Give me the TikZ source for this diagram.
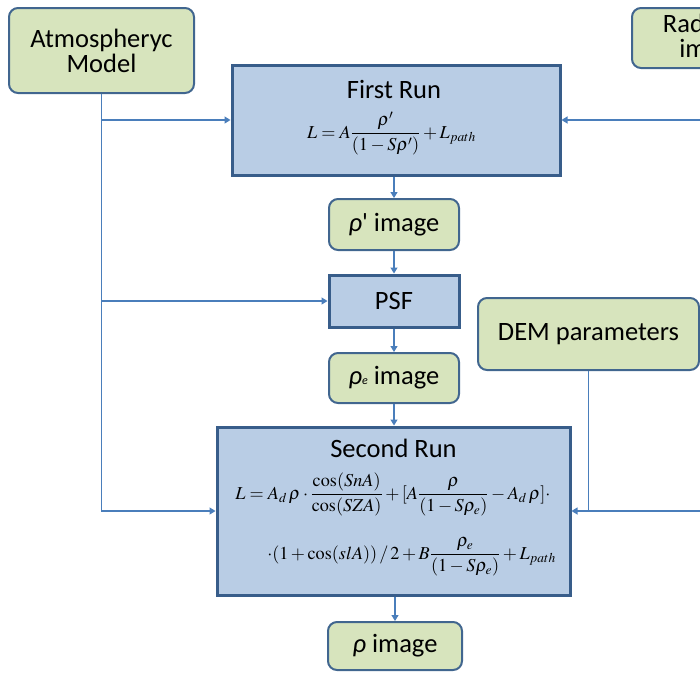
\documentclass[tikz,border=0pt]{standalone}
\usepackage{amsmath}
\usepackage{mathptmx}
\usepackage[no-math]{fontspec}
\setmainfont{Carlito}
\usetikzlibrary{arrows.meta}

\definecolor{greenfill}{HTML}{D7E4BD}
\definecolor{greenedge}{HTML}{41668F}
\definecolor{bluefill}{HTML}{B9CDE5}
\definecolor{blueedge}{HTML}{385D8A}
\definecolor{linkcol}{HTML}{4A7EBB}

\tikzset{
  databox/.style={draw=greenedge, fill=greenfill, line width=2pt,
    rounded corners=9pt, inner sep=0pt, align=center,
    font=\fontsize{26.5}{29}\selectfont},
  procbox/.style={draw=blueedge, fill=bluefill, line width=3pt,
    inner sep=0pt, align=center, font=\fontsize{26.5}{29}\selectfont},
  title/.style={inner sep=0pt, anchor=base, font=\fontsize{26.5}{29}\selectfont},
  formula/.style={inner sep=0pt, anchor=base, font=\fontsize{18.2}{21}\selectfont},
  link/.style={draw=linkcol, line width=1.2pt},
  arr/.style={link, -{Triangle[width=7pt,length=6pt]}},
}

\begin{document}
\begin{tikzpicture}[x=1pt, y=-1pt]
\clip (0,0) rectangle (700,672);

% inputs
\node[databox, minimum width=185pt, minimum height=85pt] (atm) at (101.5,50.5) {Atmospheryc\\[-4pt]Model};
\node[databox, minimum width=160pt, minimum height=60pt] (rad) at (712,38) {Radiance\\[-4pt]image};
\node[databox, minimum width=221pt, minimum height=72pt] (dem) at (588.5,334) {DEM parameters};

% first run
\node[procbox, minimum width=328pt, minimum height=110pt] (first) at (396,120) {};
\node[title] (firstT) at (394,98) {First Run};
\node[formula] (firstF) at (391.5,138) {$L = A\dfrac{\rho'}{(1-S\rho')}+L_{path}$};

% intermediate products
\node[databox, minimum width=130pt, minimum height=51pt] (rho1) at (394,224.5) {\textit{ρ}\textquotesingle\ image};
\node[procbox, minimum width=130pt, minimum height=52pt] (psf) at (394,301) {PSF};
\node[databox, minimum width=130pt, minimum height=50pt] (rhoe) at (394,378) {\textit{ρ}{\fontsize{12}{12}\selectfont\textit{e}} image};

% second run
\node[procbox, minimum width=353pt, minimum height=168pt] (second) at (393.5,511) {};
\node[title] (secondT) at (393.5,457) {Second Run};
\node[formula] (secondF1) at (393,499) {$L = A_d\,\rho\cdot\dfrac{\cos(SnA)}{\cos(SZA)}+[A\dfrac{\rho}{(1-S\rho_e)}-A_d\,\rho]\cdot$};
\node[formula] (secondF2) at (411.5,559) {$\cdot(1+\cos(slA))\,/\,2+B\dfrac{\rho_e}{(1-S\rho_e)}+L_{path}$};

% result
\node[databox, minimum width=134pt, minimum height=48pt] (rho) at (395,646) {\textit{ρ} image};

% main chain
\draw[arr] (first.south -| rho1.north) -- (rho1.north);
\draw[arr] (rho1) -- (psf);
\draw[arr] (psf) -- (rhoe);
\draw[arr] (rhoe.south) -- (rhoe.south |- second.north);
\draw[arr] (second.south -| rho.north) -- (rho.north);

% atmospheric model feeds
\draw[arr] (atm.south) |- (second.west);
\draw[arr] (atm.south |- first.west) -- (first.west);
\draw[arr] (atm.south |- psf.west) -- (psf.west);

% right-hand feeds
\coordinate (radIn) at (700,120);
\coordinate (rightIn) at (700,511);
\draw[arr] (radIn) -- (first.east);
\draw[link] (rightIn) -- (dem.south |- rightIn);
\draw[arr] (dem.south) |- (second.east);
\end{tikzpicture}
\end{document}
